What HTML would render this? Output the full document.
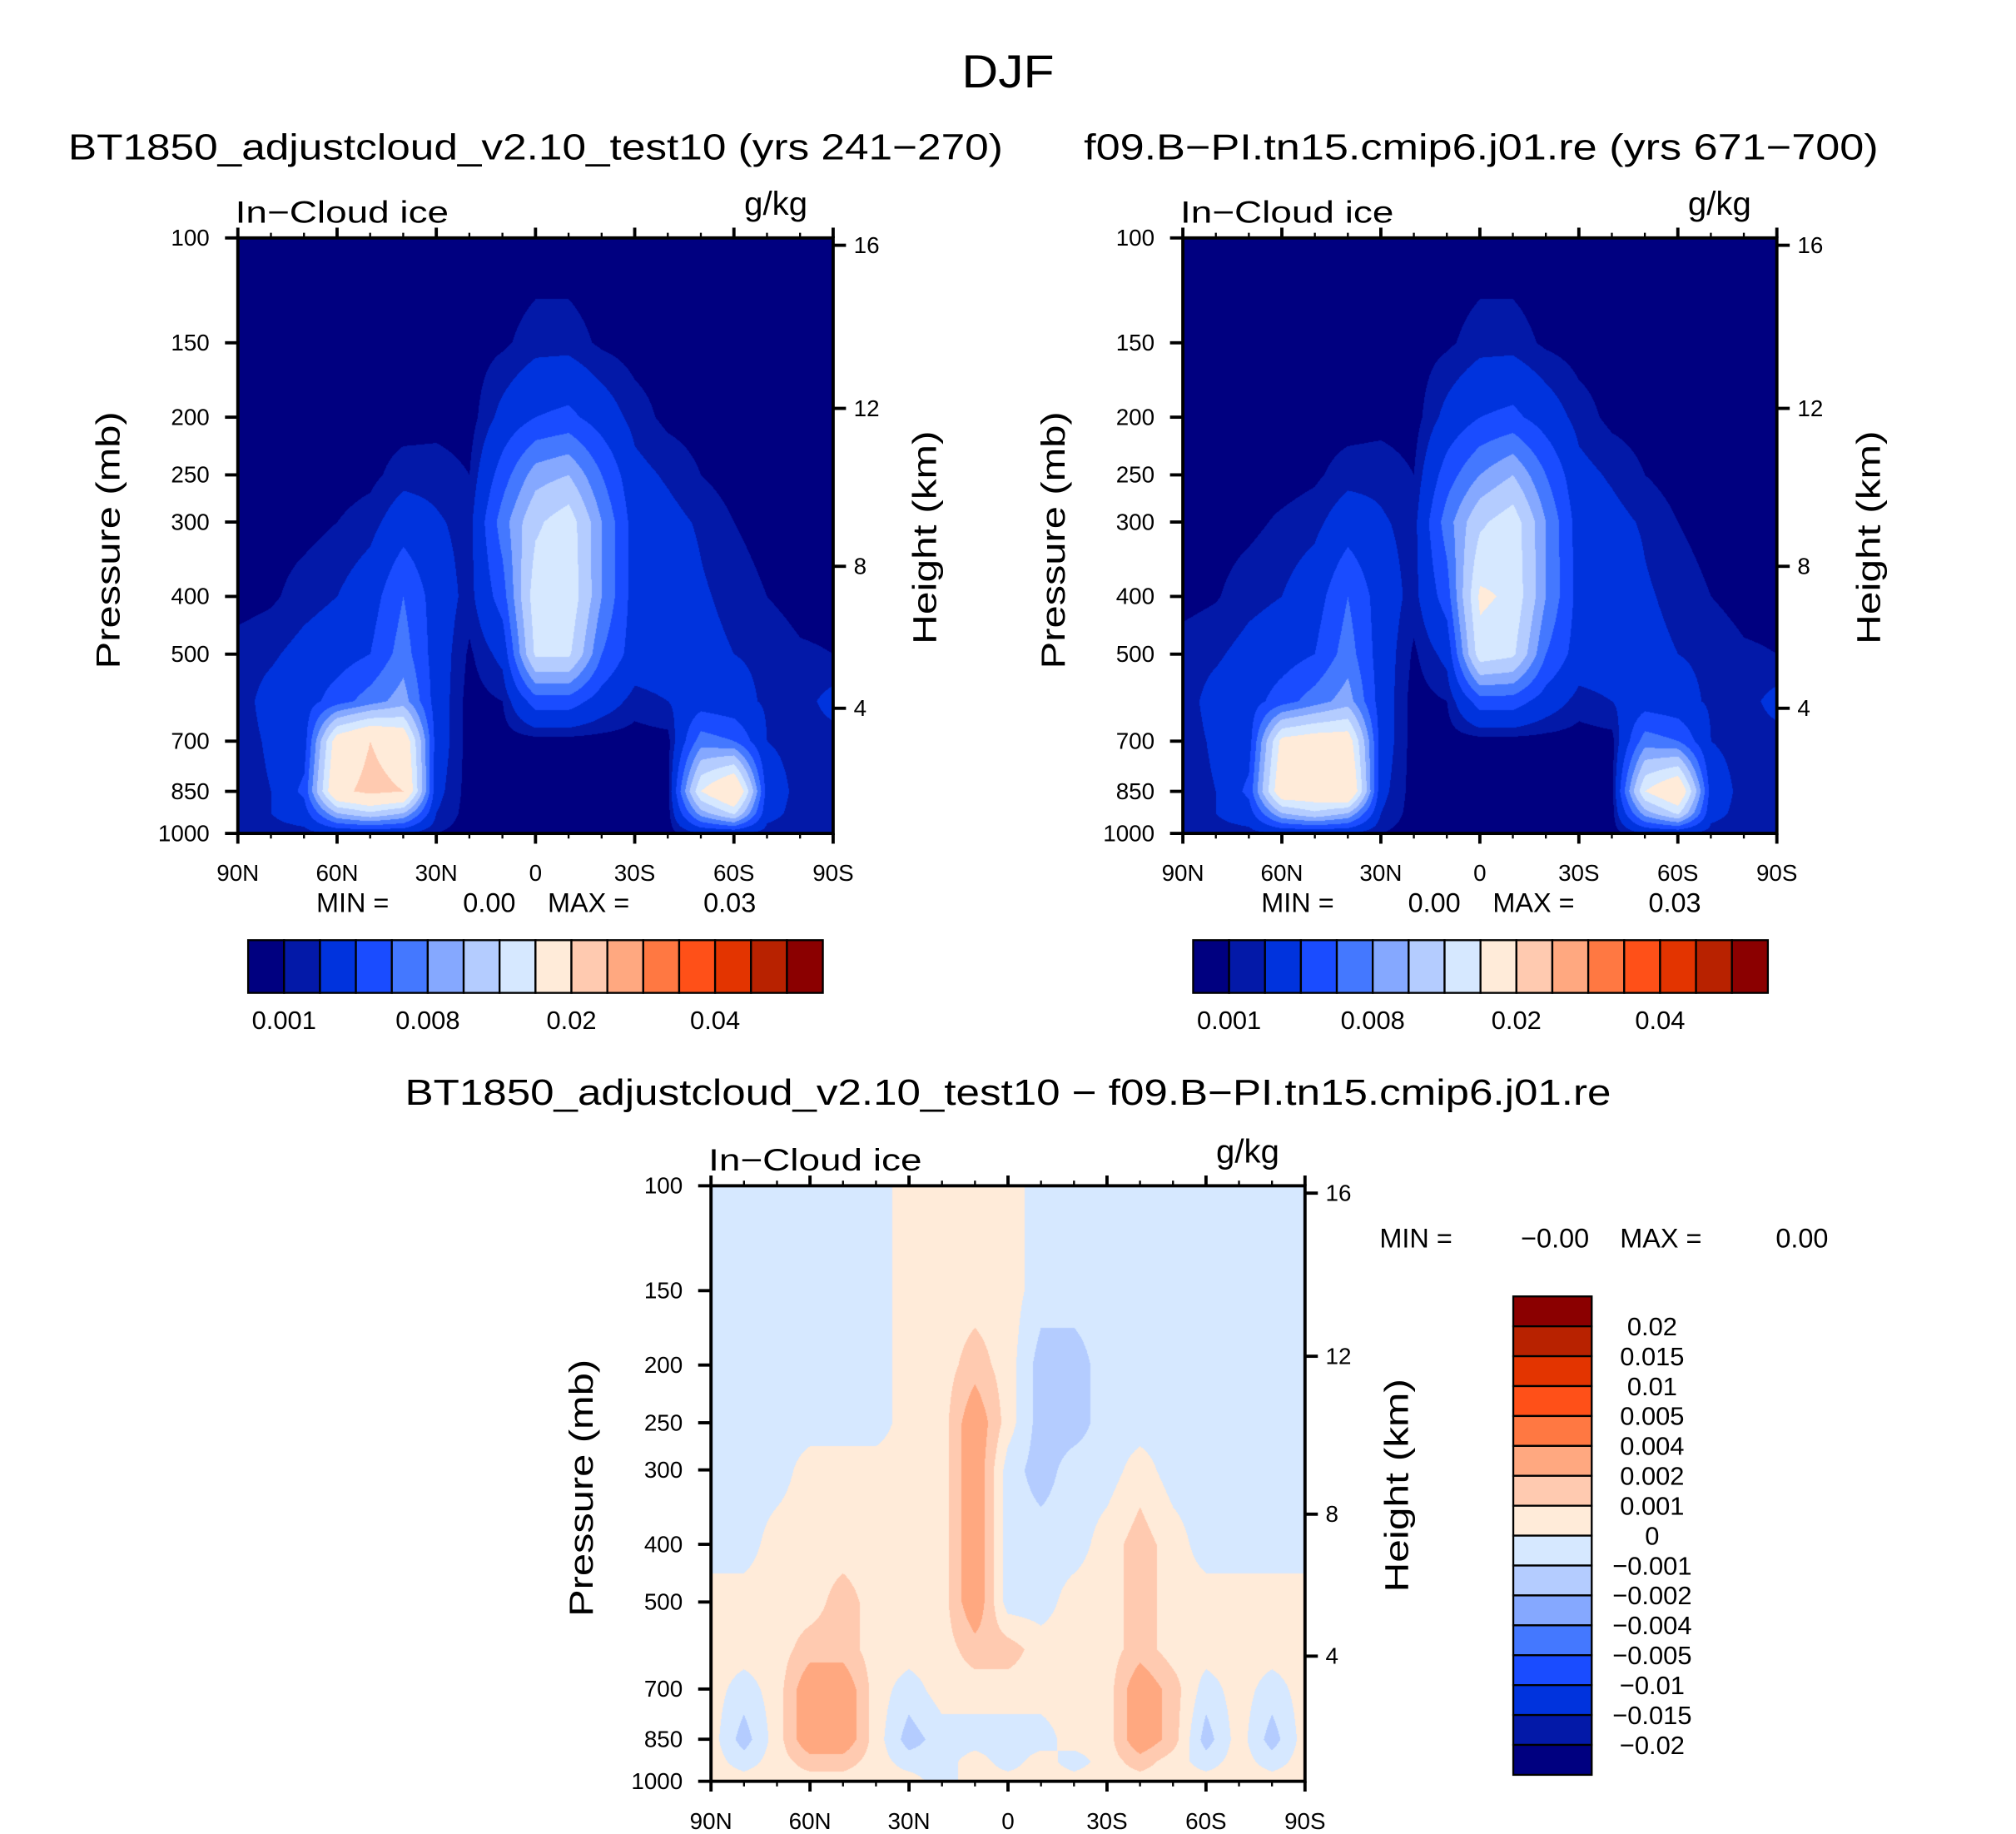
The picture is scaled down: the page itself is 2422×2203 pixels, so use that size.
<!DOCTYPE html>
<html><head><meta charset="utf-8">
<style>
html,body{margin:0;padding:0;background:#fff;}
#wrap{position:relative;width:2422px;height:2203px;overflow:hidden;}
#cv{position:absolute;left:0;top:0;}
#sv{position:absolute;left:0;top:0;}
text{font-family:"Liberation Sans",sans-serif;fill:#000;}
</style></head>
<body>
<div id="wrap">
<canvas id="cv" width="2422" height="2203"></canvas>
<svg id="sv" width="2422" height="2203" viewBox="0 0 1568 1426" preserveAspectRatio="none">
<text x="784" y="68" font-size="36" text-anchor="middle" textLength="72" lengthAdjust="spacingAndGlyphs">DJF</text>
<text x="53" y="124" font-size="28" textLength="727" lengthAdjust="spacingAndGlyphs">BT1850_adjustcloud_v2.10_test10 (yrs 241−270)</text>
<text x="843" y="124" font-size="28" textLength="618" lengthAdjust="spacingAndGlyphs">f09.B−PI.tn15.cmip6.j01.re (yrs 671−700)</text>
<text x="315" y="859" font-size="28" textLength="938" lengthAdjust="spacingAndGlyphs">BT1850_adjustcloud_v2.10_test10 − f09.B−PI.tn15.cmip6.j01.re</text>
<g id="axes"></g>
</svg>
</div>
<script>
// ---- data (values in units of 1e-3 g/kg) ----
const lats = [90,80,70,60,50,40,30,20,10,0,-10,-20,-30,-40,-50,-60,-70,-80,-90];
const plevs = [100,150,200,250,300,400,500,600,700,850,925,1000];
const mainLevels = [1,2,4,6,8,10,12.5,15,20,25,30,35,40,45,50];
const diffLevels = [-20,-15,-10,-5,-4,-2,-1,0,1,2,4,5,10,15,20];
const mainLabels = ["0.001","0.008","0.02","0.04"];
const diffLabels = ["0.02","0.015","0.01","0.005","0.004","0.002","0.001","0","−0.001","−0.002","−0.004","−0.005","−0.01","−0.015","−0.02"];
const pTicks = [100,150,200,250,300,400,500,700,850,1000];
const zTicks = [4,8,12,16];
const latTicks = ["90N","60N","30N","0","30S","60S","90S"];
// columns by latitude (90N..90S), each listing values at plevs
const fieldA = [
[.5,.5,.5,.5,.5,.5,1.5,1.5,1.5,1.5,1.5,1.5],
[.5,.5,.5,.5,.5,.8,1.8,2.5,2.2,2,2,1.5],
[.5,.5,.5,.5,.6,1.5,2.5,3,3,4.5,3,1.5],
[.5,.5,.5,.5,1,2,3,5,17,19,10,2],
[.5,.5,.5,.7,1.5,3,4,7,20,21,12,2],
[.5,.5,.5,1.5,3,6,7,9,18,20,10,2],
[.5,.5,.6,1.5,2.2,3,3,3,3,2.5,2,1],
[.3,.5,.5,1,1.5,1.5,.8,.5,.5,.5,.5,.5],
[.3,.8,2.5,5,7,5,2.5,1,.5,.5,.5,.5],
[.3,1.5,4,9,12,14,13,5,.5,.5,.5,.5],
[.3,1.5,4.5,10,14,14.5,13,5,.5,.5,.5,.5],
[.3,.8,3,6,8,8,6,3,.5,.5,.5,.5],
[.5,.5,1.5,2.5,3,3,3,1.5,.5,.5,.5,.5],
[.5,.5,.7,1.8,2.5,3.5,3,2,.6,.5,.5,.5],
[.5,.5,.5,1,1.8,2.2,2.5,3,7,15,9,2],
[.5,.5,.5,.5,1,1.6,2,2.5,6,20,13,2],
[.5,.5,.5,.5,.5,1,1.8,1.8,2,3,2.5,1.5],
[.5,.5,.5,.5,.5,.5,1.2,1.5,1.5,1.5,1.5,1.5],
[.5,.5,.5,.5,.5,.5,1,2.5,1.5,1.5,1.5,1.5]];
const fieldB = [
[.5,.5,.5,.5,.5,.6,1.5,1.5,1.5,1.5,1.5,1],
[.5,.5,.5,.5,.5,.9,1.8,2.5,2.2,2,2,1.5],
[.5,.5,.5,.5,.7,1.6,2.5,3,3,4.5,3,1.5],
[.5,.5,.5,.5,1.2,2,3,5,16,18,10,2],
[.5,.5,.5,.8,1.6,3,4,7,17,18,12,2],
[.5,.5,.5,1.5,3,6,7,9,17,20,10,2],
[.5,.5,.6,1.6,2.2,3,3,3,3,2.5,2,1],
[.3,.5,.5,1,1.5,1.5,.8,.5,.5,.5,.5,.5],
[.3,.8,2.5,5,7,5,2.5,1,.5,.5,.5,.5],
[.3,1.5,4,8,12,15.5,14,5,.5,.5,.5,.5],
[.3,1.5,4.5,10,14,14.5,13,5,.5,.5,.5,.5],
[.3,.8,3,6,8,8,6,3,.5,.5,.5,.5],
[.5,.5,1.5,2.5,3,3.2,3,1.5,.5,.5,.5,.5],
[.5,.5,.7,1.8,2.5,3.8,3,2,.6,.5,.5,.5],
[.5,.5,.5,1,1.8,2.2,2.5,3,7,15,9,2],
[.5,.5,.5,.5,1,1.6,2,2.5,6,19,13,2],
[.5,.5,.5,.5,.5,1,1.8,1.8,2,3,2.5,1.5],
[.5,.5,.5,.5,.5,.5,1.2,1.5,1.5,1.5,1.5,1.5],
[.5,.5,.5,.5,.5,.5,1,2.5,1.5,1.5,1.5,1.5]];
const fieldD = [
[-.5,-.5,-.5,-.5,-.5,-.5,.5,.5,.5,.5,.5,.5],
[-.5,-.5,-.5,-.5,-.5,-.5,.5,.5,-.5,-1.5,-.5,.5],
[-.5,-.5,-.5,-.5,-.5,.5,.5,.5,.5,.5,.5,.5],
[-.5,-.5,-.5,-.5,.5,.5,.5,1.5,3,3,1.5,.5],
[-.5,-.5,-.5,-.5,.5,.5,1.5,1.5,3,3,1.5,.5],
[-.5,-.5,-.5,-.5,.5,.5,.5,.5,.5,.5,.5,.5],
[.5,.5,.5,.5,.5,.5,.5,.5,-.5,-1.5,-.5,.5],
[.5,.5,.5,.5,.5,.5,.5,.5,.5,-.5,-.5,-.5],
[.5,.5,1.5,3,3,3,3,1.5,.5,-.5,.5,.5],
[.5,.5,.5,.5,-.5,-.5,-.5,1.5,.5,-.5,-.5,.5],
[-.5,-.5,-1.5,-1.5,-1.5,-.5,-.5,.5,.5,-.5,.5,.5],
[-.5,-.5,-1.5,-1.5,-.5,-.5,.5,.5,.5,.5,-.5,.5],
[-.5,-.5,-.5,-.5,-.5,.5,.5,.5,.5,.5,.5,.5],
[-.5,-.5,-.5,-.5,.5,1.5,1.5,1.5,3,3,1.5,.5],
[-.5,-.5,-.5,-.5,-.5,.5,.5,.5,1.5,1.5,.5,.5],
[-.5,-.5,-.5,-.5,-.5,-.5,.5,.5,-.5,-1.5,-.5,.5],
[-.5,-.5,-.5,-.5,-.5,-.5,.5,.5,.5,.5,.5,.5],
[-.5,-.5,-.5,-.5,-.5,-.5,.5,.5,-.5,-1.5,-.5,.5],
[-.5,-.5,-.5,-.5,-.5,-.5,.5,.5,.5,.5,.5,.5]];
const palette = ['#000080','#0319A8','#0033DD','#1A4CFF','#4478FF','#85A8FF','#B4CCFF','#D6E8FF','#FFEBD9','#FFCAB0','#FFA880','#FF7842','#FF5018','#E33400','#B82200','#8B0000'];

// ---- layout (display units, scaled by S to actual px) ----
const S = 2422/1568;
const SY = 2203/1426;
const panels = [
 {x:185,y:185,w:463,h:463,field:fieldA,levels:mainLevels,name:'left'},
 {x:920,y:185,w:462,h:463,field:fieldB,levels:mainLevels,name:'right'},
 {x:553,y:922,w:462,h:463,field:fieldD,levels:diffLevels,name:'diff'}];
const lnp = plevs.map(p=>Math.log(p));
function xOfLat(P,lat){return P.x+P.w*(90-lat)/180;}
function yOfP(P,p){return P.y+P.h*Math.log(p/100)/Math.log(10);}
function pOfZ(z){
  if(z<=11) return 1013.25*Math.pow(1-2.25577e-5*z*1000,5.25588);
  return 226.32*Math.exp(-(z-11)/6.3416);
}
function classify(v,lv){let k=0;while(k<lv.length&&v>=lv[k])k++;return k;}
function hex(c){return [parseInt(c.slice(1,3),16),parseInt(c.slice(3,5),16),parseInt(c.slice(5,7),16)];}
const rgb = palette.map(hex);

// ---- draw filled contours on canvas ----
const ctx = document.getElementById('cv').getContext('2d');
panels.forEach(P=>{
  const x0=Math.round(P.x*S), x1=Math.round((P.x+P.w)*S), y0=Math.round(P.y*SY), y1=Math.round((P.y+P.h)*SY);
  const W=x1-x0, H=y1-y0;
  const img=ctx.createImageData(W,H);
  for(let j=0;j<H;j++){
    const lp=Math.log(100)+(j+0.5)/H*Math.log(10);
    let r=0;while(r<plevs.length-2&&lp>lnp[r+1])r++;
    let fy=(lp-lnp[r])/(lnp[r+1]-lnp[r]);fy=Math.max(0,Math.min(1,fy));
    for(let i=0;i<W;i++){
      const lat=90-(i+0.5)/W*180;
      let fc=(90-lat)/10; let c=Math.min(17,Math.floor(fc)); let fx=fc-c;
      const F=P.field;
      const v=(F[c][r]*(1-fx)+F[c+1][r]*fx)*(1-fy)+(F[c][r+1]*(1-fx)+F[c+1][r+1]*fx)*fy;
      const col=rgb[classify(v,P.levels)];
      const o=(j*W+i)*4;
      img.data[o]=col[0];img.data[o+1]=col[1];img.data[o+2]=col[2];img.data[o+3]=255;
    }
  }
  ctx.putImageData(img,x0,y0);
});

// ---- axes and annotations in SVG ----
const NS='http://www.w3.org/2000/svg';
const G=document.getElementById('axes');
function mk(tag,attrs,txt){const e=document.createElementNS(NS,tag);for(const k in attrs)e.setAttribute(k,attrs[k]);if(txt!==undefined)e.textContent=txt;G.appendChild(e);return e;}
panels.forEach(P=>{
  let e;
  e=mk('rect',{x:P.x,y:P.y,width:P.w,height:P.h,fill:'none',stroke:'#000','stroke-width':2.5});
  
  
  for(let lat=90;lat>=-90;lat-=10){
    const x=xOfLat(P,lat);const major=(lat%30===0);const L=major?8:4;
    e=mk('line',{x1:x,x2:x,y1:P.y+P.h,y2:P.y+P.h+L,stroke:'#000','stroke-width':major?2.5:1.5});
    
    
    e=mk('line',{x1:x,x2:x,y1:P.y,y2:P.y-L,stroke:'#000','stroke-width':major?2.5:1.5});
    
    
  }
  latTicks.forEach((t,k)=>{
    e=mk('text',{x:xOfLat(P,90-k*30),y:P.y+P.h+37,'font-size':18,'text-anchor':'middle'},t);
    
    
  });
  pTicks.forEach(p=>{
    const y=yOfP(P,p);
    e=mk('line',{x1:P.x-10,x2:P.x,y1:y,y2:y,stroke:'#000','stroke-width':2.5});
    
    
    e=mk('text',{x:P.x-22,y:y+6,'font-size':18,'text-anchor':'end'},String(p));
    
    
  });
  zTicks.forEach(z=>{
    const y=yOfP(P,pOfZ(z));
    e=mk('line',{x1:P.x+P.w,x2:P.x+P.w+10,y1:y,y2:y,stroke:'#000','stroke-width':2.5});
    
    
    e=mk('text',{x:P.x+P.w+16,y:y+6,'font-size':18},String(z));
    
    
  });
  e=mk('text',{x:P.x-2,y:P.y-12,'font-size':24,textLength:166,lengthAdjust:'spacingAndGlyphs'},'In−Cloud ice');
  
  
  e=mk('text',{x:P.x+P.w-20,y:P.y-18,'font-size':26,'text-anchor':'end'},'g/kg');
  
  
  e=mk('text',{x:0,y:0,'font-size':26,'text-anchor':'middle',textLength:200,lengthAdjust:'spacingAndGlyphs',transform:`translate(${P.x-92},${P.y+235}) rotate(-90)`},'Pressure (mb)');
  
  
  e=mk('text',{x:0,y:0,'font-size':26,'text-anchor':'middle',textLength:166,lengthAdjust:'spacingAndGlyphs',transform:`translate(${P.x+P.w+80},${P.y+233}) rotate(-90)`},'Height (km)');
  
  
});
// MIN/MAX and horizontal colorbars
[0,1].forEach(k=>{
  const P=panels[k];let e;
  const dx=P.x-185;
  e=mk('text',{x:246+dx,y:709,'font-size':21},'MIN =');
  
  
  e=mk('text',{x:401+dx,y:709,'font-size':21,'text-anchor':'end'},'0.00');
  
  
  e=mk('text',{x:426+dx,y:709,'font-size':21},'MAX =');
  
  
  e=mk('text',{x:588+dx,y:709,'font-size':21,'text-anchor':'end'},'0.03');
  
  
  const bx=193+dx, bw=447/16;
  palette.forEach((c,i)=>{
    e=mk('rect',{x:bx+i*bw,y:731,width:bw,height:41,fill:c,stroke:'#000','stroke-width':1.5});
    
    
  });
  mainLabels.forEach((t,i)=>{
    e=mk('text',{x:bx+(1+4*i)*bw,y:800,'font-size':20,'text-anchor':'middle'},t);
    
    
  });
});
// diff MIN/MAX and vertical colorbar
let e;
e=mk('text',{x:1073,y:970,'font-size':21},'MIN =');


e=mk('text',{x:1236,y:970,'font-size':21,'text-anchor':'end'},'−0.00');


e=mk('text',{x:1260,y:970,'font-size':21},'MAX =');


e=mk('text',{x:1422,y:970,'font-size':21,'text-anchor':'end'},'0.00');


const vbh=372/16;
palette.slice().reverse().forEach((c,i)=>{
  e=mk('rect',{x:1177,y:1008+i*vbh,width:61,height:vbh,fill:c,stroke:'#000','stroke-width':1.5});
  
  
});
diffLabels.forEach((t,i)=>{
  e=mk('text',{x:1285,y:1008+(i+1)*vbh+7,'font-size':20,'text-anchor':'middle'},t);
  
  
});
</script>
</body></html>
